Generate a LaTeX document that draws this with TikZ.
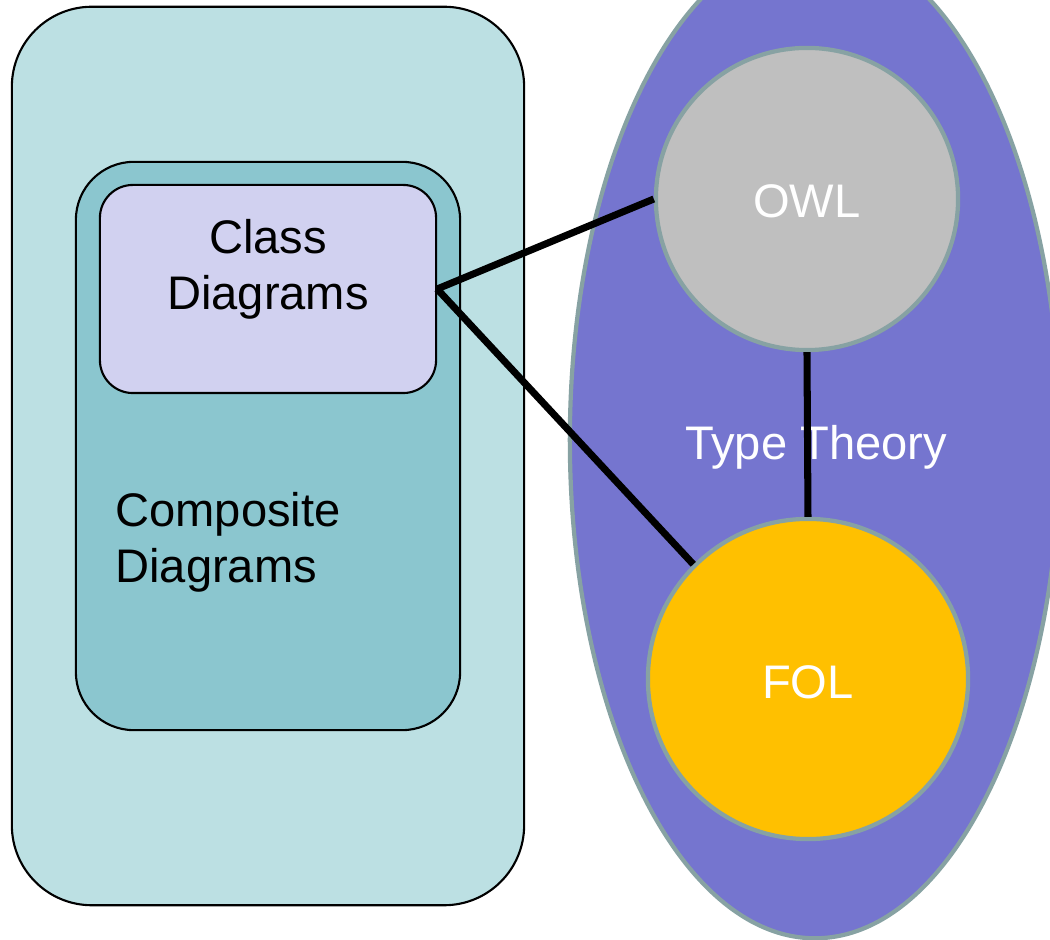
\documentclass[tikz,border=0pt]{standalone}
\usepackage{fontspec}
\setmainfont{Liberation Sans}
\usepackage{tikz}
\usetikzlibrary{shapes.geometric, positioning}
\definecolor{paleteal}{HTML}{BCE0E3}
\definecolor{midteal}{HTML}{8BC6CF}
\definecolor{lavender}{HTML}{D1D1F0}
\definecolor{typeblue}{HTML}{7575CF}
\definecolor{owlgray}{HTML}{BFBFBF}
\definecolor{folyellow}{HTML}{FFC000}
\definecolor{rimgray}{HTML}{87A2A3}

\tikzset{
	box/.style={draw=black, line width=0.6pt, rectangle},
	blob/.style={draw=rimgray, line width=1.2pt, inner sep=0pt},
	link/.style={line width=2pt, black},
	label/.style={font=\fontsize{13.4}{15.9}\selectfont}
}

\begin{document}
\begin{tikzpicture}[x=0.01cm, y=-0.01cm]
	\useasboundingbox (0,0) rectangle (1050,940);
	
	% left side: nested boxes
	\node[box, fill=paleteal, rounded corners=0.8cm, minimum width=5.12cm, minimum height=8.98cm] (outer) at (268,456) {};
	\node[box, fill=midteal, rounded corners=0.58cm, minimum width=3.84cm, minimum height=5.68cm] (composite) at (268,446) {};
	\node[box, fill=lavender, rounded corners=0.33cm, minimum width=3.36cm, minimum height=2.08cm] (class) at (268,289) {};
	\node[label, align=center] (classtxt) at (268,269) {Class\\Diagrams};
	\node[label, align=left, anchor=west] (comptxt) at (103,542) {Composite\\Diagrams};
	
	% right side: ellipse with two circles
	\node[blob, ellipse, fill=typeblue, minimum width=4.9cm, minimum height=9.96cm] (type) at (815,440) {};
	\node[label, white] (typetxt) at (816,447) {Type Theory};
	\node[blob, circle, fill=owlgray, minimum size=3.02cm] (owl) at (807,199) {};
	\node[blob, circle, fill=folyellow, minimum size=3.2cm] (fol) at (808,679) {};
	\node[label, white] at ([yshift=-0.02cm]owl.center) {OWL};
	\node[label, white] at ([yshift=-0.03cm]fol.center) {FOL};
	
	\draw[link] (class.east) -- (owl.west);
	\draw[link] (class.east) -- (fol.135);
	\draw[link] (owl.south) -- (fol.north);
\end{tikzpicture}
\end{document}
